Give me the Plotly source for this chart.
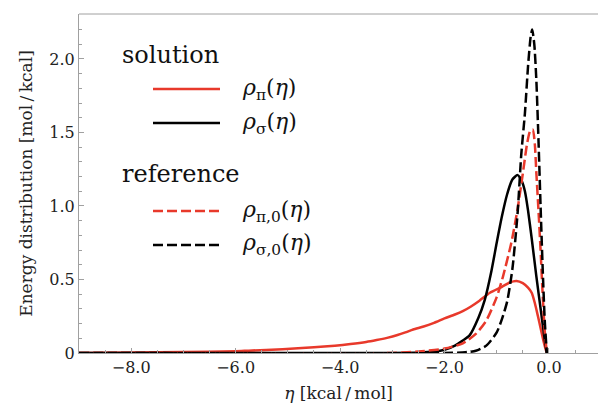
import plotly.graph_objects as go

# ---- data ----
eta_pi = [-9.0, -8.0, -7.0, -6.0, -5.75, -5.1, -4.5, -4.1, -3.8, -3.5, -3.3, -3.1, -2.9, -2.75, -2.6, -2.4, -2.2, -2.0,
          -1.8, -1.65, -1.5, -1.33, -1.13, -0.9, -0.75, -0.62, -0.5, -0.4, -0.33, -0.27, -0.21, -0.16, -0.11, -0.07, -0.04]
rho_pi = [0.0, 0.003, 0.006, 0.012, 0.016, 0.025, 0.039, 0.05, 0.061, 0.075, 0.088, 0.103, 0.122, 0.14, 0.16, 0.18, 0.205, 0.235,
          0.262, 0.285, 0.315, 0.356, 0.41, 0.45, 0.48, 0.49, 0.475, 0.445, 0.41, 0.34, 0.25, 0.17, 0.09, 0.035, 0.0]

eta_sigma = [-9.0, -3.0, -2.5, -2.2, -2.0, -1.8, -1.65, -1.52, -1.35, -1.23, -1.1, -1.0, -0.9, -0.8, -0.7, -0.6, -0.52, -0.46,
             -0.4, -0.33, -0.24, -0.14, -0.08, -0.04]
rho_sigma = [0.0, 0.0, 0.003, 0.01, 0.022, 0.05, 0.085, 0.12, 0.24, 0.36, 0.56, 0.75, 0.93, 1.08, 1.18, 1.21, 1.17, 1.1,
             0.97, 0.78, 0.52, 0.25, 0.09, 0.0]

eta_pi0 = [-9.0, -3.0, -2.5, -2.0, -1.65, -1.4, -1.2, -1.0, -0.88, -0.72, -0.6, -0.5, -0.42, -0.36, -0.31, -0.27, -0.24, -0.2,
           -0.16, -0.12, -0.08, -0.04]
rho_pi0 = [0.0, 0.0, 0.01, 0.03, 0.066, 0.13, 0.22, 0.38, 0.52, 0.75, 0.98, 1.22, 1.42, 1.51, 1.52, 1.42, 1.22, 0.97,
           0.70, 0.40, 0.15, 0.0]

eta_sigma0 = [-9.0, -2.0, -1.6, -1.4, -1.2, -1.0, -0.9, -0.8, -0.7, -0.6, -0.53, -0.46, -0.4, -0.35, -0.32, -0.28, -0.24,
              -0.2, -0.16, -0.12, -0.08, -0.04]
rho_sigma0 = [0.0, 0.0, 0.005, 0.015, 0.05, 0.14, 0.23, 0.35, 0.57, 0.95, 1.35, 1.63, 1.95, 2.15, 2.20, 2.1, 1.85,
              1.45, 1.0, 0.58, 0.22, 0.0]

x_ticks = [-8.0, -6.0, -4.0, -2.0, 0.0]
x_ticklabels = ["\u22128.0", "\u22126.0", "\u22124.0", "\u22122.0", "0.0"]
y_ticks = [0, 0.5, 1.0, 1.5, 2.0]
y_ticklabels = ["0", "0.5", "1.0", "1.5", "2.0"]

RED = "#e8392b"
BLACK = "#000000"
FONT = "DejaVu Serif"

fig = go.Figure()
series = [
    (eta_pi, rho_pi, RED, "solid"),
    (eta_sigma, rho_sigma, BLACK, "solid"),
    (eta_pi0, rho_pi0, RED, "10px,4px"),
    (eta_sigma0, rho_sigma0, BLACK, "10px,4px"),
]
for xs, ys, c, d in series:
    fig.add_trace(go.Scatter(x=xs, y=ys, mode="lines",
                             line=dict(color=c, width=2.5, dash=d, shape="spline", smoothing=0.6),
                             showlegend=False, hoverinfo="skip"))

axis_grey = "#a0a0a0"
fig.update_xaxes(range=[-9.0, 0.94], showgrid=False, zeroline=False, automargin=False,
                 showline=True, linecolor=axis_grey, linewidth=1,
                 ticks="inside", ticklen=5, tickcolor=axis_grey, tickwidth=1,
                 tickvals=x_ticks, ticktext=x_ticklabels,
                 minor=dict(dtick=0.5, ticks="inside", ticklen=3, tickcolor=axis_grey),
                 tickfont=dict(family=FONT, size=16, color="#222"),
                 title=dict(text="<i>\u03b7</i> [kcal\u2009/\u2009mol]", font=dict(family=FONT, size=17, color="#222"), standoff=10))
fig.update_yaxes(range=[0, 2.306], showgrid=False, zeroline=False, automargin=False,
                 showline=True, linecolor=axis_grey, linewidth=1,
                 ticks="inside", ticklen=5, tickcolor=axis_grey, tickwidth=1,
                 tickvals=y_ticks, ticktext=y_ticklabels,
                 minor=dict(dtick=0.1, ticks="inside", ticklen=3, tickcolor=axis_grey),
                 tickfont=dict(family=FONT, size=16, color="#222"),
                 title=dict(text="Energy distribution [mol\u2009/\u2009kcal]", font=dict(family=FONT, size=17, color="#222"), standoff=12))

# top frame line
fig.add_shape(type="line", xref="paper", yref="paper", x0=0, x1=1, y0=1, y1=1,
              line=dict(color=axis_grey, width=1))

# legend (drawn manually)
W, H = 598 - 79, 407 - 14 - 54
def px(x):
    return (x - 79) / W
def py(y):
    return 1 - (y - 14) / H

ann = []
ann.append(dict(x=px(120), y=py(55), text="solution", xanchor="left", yanchor="middle", size=24))
ann.append(dict(x=px(120), y=py(174), text="reference", xanchor="left", yanchor="middle", size=24))
labels = [
    (89, "<i>\u03c1</i><sub>\u03c0</sub>(<i>\u03b7</i>)", RED, "solid"),
    (123, "<i>\u03c1</i><sub>\u03c3</sub>(<i>\u03b7</i>)", BLACK, "solid"),
    (211, "<i>\u03c1</i><sub>\u03c0,0</sub>(<i>\u03b7</i>)", RED, "10px,4px"),
    (245, "<i>\u03c1</i><sub>\u03c3,0</sub>(<i>\u03b7</i>)", BLACK, "10px,4px"),
]
for yy, t, c, d in labels:
    ann.append(dict(x=px(240), y=py(yy), text=t, xanchor="left", yanchor="middle", size=22))
    fig.add_shape(type="line", xref="paper", yref="paper", x0=px(153), x1=px(220), y0=py(yy), y1=py(yy),
                  line=dict(color=c, width=2.5, dash=d))
for a in ann:
    s = a.pop("size")
    a.update(xref="paper", yref="paper", showarrow=False, font=dict(family=FONT, size=s, color="#111"))
fig.update_layout(annotations=ann)

fig.update_layout(width=598, height=407, margin=dict(l=79, r=0, t=14, b=54),
                  plot_bgcolor="white", paper_bgcolor="white")
fig.write_html("out.html", config={"displayModeBar": False, "staticPlot": True},
               post_script="document.body.style.margin='0px';document.body.style.overflow='hidden';"
                           "document.documentElement.style.overflow='hidden';")
